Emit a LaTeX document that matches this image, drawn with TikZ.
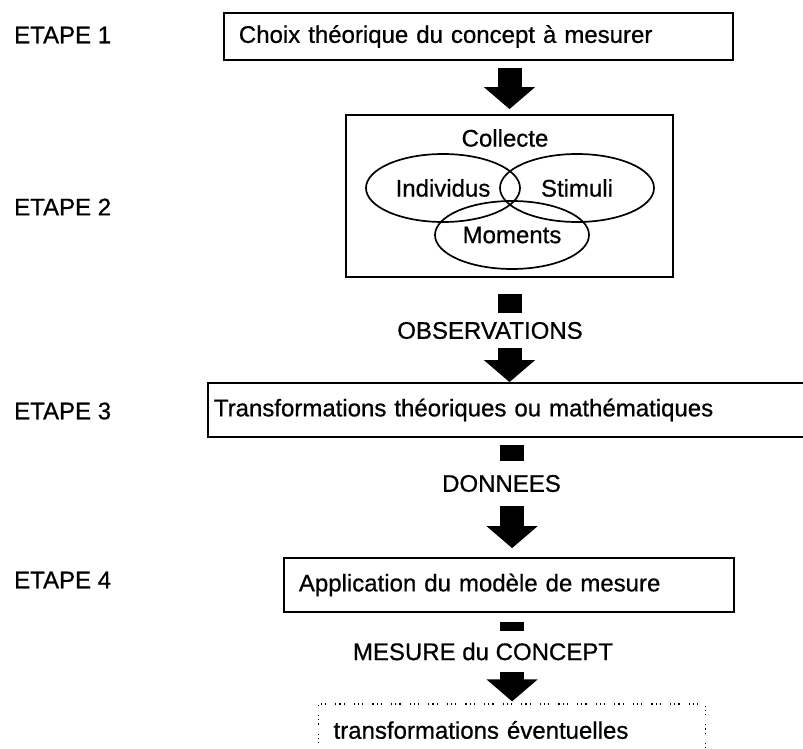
\documentclass[tikz,border=0pt]{standalone}
\usepackage{fontspec}
\setmainfont[FakeBold=0.7]{Liberation Sans}
\usetikzlibrary{shapes.geometric, arrows.meta}

\begin{document}
\begin{tikzpicture}[x=1pt, y=-1pt, font=\fontsize{24}{28}\selectfont,
                    fleche/.style={line width=24pt, -{Triangle[width=50pt, length=22pt]}}]
  \tikzstyle{etape}=[anchor=west, inner sep=0pt]
  \tikzstyle{boite}=[draw, line width=1.8pt, anchor=west, align=left, inner xsep=15pt]
  \tikzstyle{ensemble}=[draw, ellipse, line width=1.7pt, minimum width=154pt,
                        minimum height=68pt, inner sep=0pt]
  \tikzstyle{etiquette}=[fill=white, inner xsep=6pt, inner ysep=0pt]

  \useasboundingbox (0,0) rectangle (803,749);

  % etapes
  \node[etape] (e1) at (14,35)  {ETAPE 1};
  \node[etape] (e2) at (14,207) {ETAPE 2};
  \node[etape] (e3) at (14,411) {ETAPE 3};
  \node[etape] (e4) at (14,580) {ETAPE 4};

  % boites
  \node[boite, text width=479pt, minimum height=47pt] (boite1) at (223,36.5)
       {Choix théorique du concept à mesurer};
  \node[boite, anchor=center, minimum width=327pt, minimum height=162pt] (boite2) at (509.5,196) {};
  \node[boite, inner xsep=6pt, text width=596pt, minimum height=54pt] (boite3) at (207,410)
       {Transformations théoriques ou mathématiques};
  \node[boite, text width=420pt, minimum height=54pt] (boite4) at (283,585)
       {Application du modèle de mesure};
  \node[boite, line width=1.2pt, dash pattern=on 1.2pt off 3pt on 1.2pt off 3pt on 1.2pt off 9pt,
        text width=357pt, minimum height=52pt] (trans) at (318,730)
       {transformations éventuelles};

  % collecte
  \node (collecte) at (505,138) {Collecte};
  \node[ensemble] (indiv)   at (443,188) {Individus};
  \node[ensemble] (stimuli) at (577,188) {Stimuli};
  \node[ensemble] (moments) at (512,235) {Moments};

  % fleches
  \draw[fleche, shorten <=7pt, shorten >=5pt] (boite1.south -| boite2.north) -- (boite2.north);
  \draw[fleche, shorten <=16pt] (boite2.south) -- (boite3.north -| boite2.south);
  \draw[fleche, shorten <=7pt, shorten >=9pt] (boite3.south -| trans.north) -- (boite4.north -| trans.north);
  \draw[fleche, shorten <=9pt, shorten >=2pt] (boite4.south -| trans.north) -- (trans.north);

  \node[etiquette, minimum height=35pt] (obs)     at (490,330.5) {OBSERVATIONS};
  \node[etiquette, minimum height=45pt] (donnees) at (501.5,483.5) {DONNEES};
  \node[etiquette, minimum height=41pt] (mesure)  at (483,651.5) {MESURE du CONCEPT};
\end{tikzpicture}
\end{document}
